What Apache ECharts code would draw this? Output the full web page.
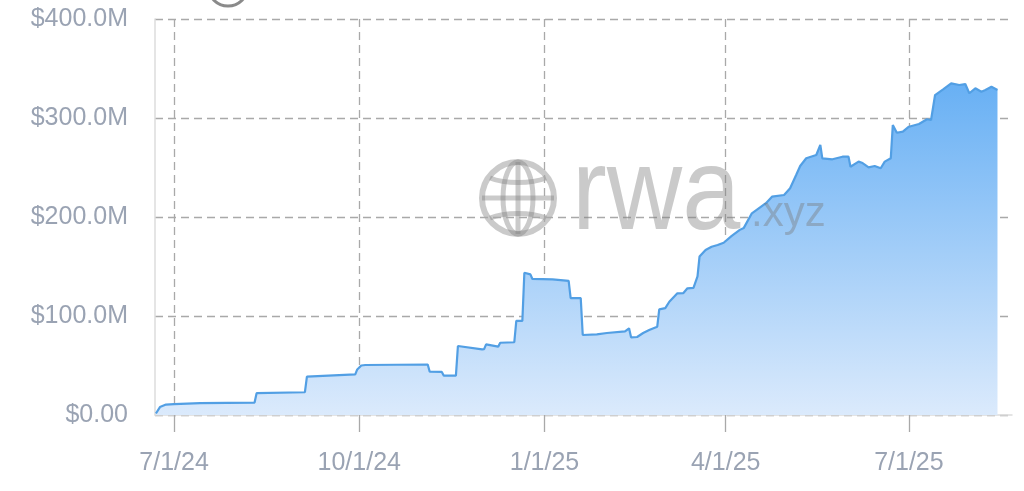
<!DOCTYPE html>
<html>
<head>
<meta charset="utf-8">
<script src="https://cdn.jsdelivr.net/npm/echarts@6/dist/echarts.min.js"></script>
<style>
  html, body { margin: 0; padding: 0; background: #fff; }
  #chart { width: 1024px; height: 491px; }
</style>
</head>
<body>
<div id="chart"></div>
<script>
// total value in $M
const dates = [
  "2024-06-22", "2024-06-24", "2024-06-27", "2024-07-01", "2024-07-14", "2024-08-10", "2024-08-11",
  "2024-09-04", "2024-09-05", "2024-09-29", "2024-09-30", "2024-10-02", "2024-10-04", "2024-11-04",
  "2024-11-05", "2024-11-11", "2024-11-12", "2024-11-18", "2024-11-19", "2024-12-01", "2024-12-02",
  "2024-12-03", "2024-12-09", "2024-12-10", "2024-12-17", "2024-12-18", "2024-12-21", "2024-12-22",
  "2024-12-25", "2024-12-26", "2025-01-05", "2025-01-13", "2025-01-14", "2025-01-19", "2025-01-20",
  "2025-01-27", "2025-02-01", "2025-02-10", "2025-02-12", "2025-02-13", "2025-02-16", "2025-02-19",
  "2025-02-22", "2025-02-26", "2025-02-27", "2025-03-02", "2025-03-04", "2025-03-08", "2025-03-11",
  "2025-03-13", "2025-03-16", "2025-03-18", "2025-03-19", "2025-03-22", "2025-03-25", "2025-03-28",
  "2025-03-31", "2025-04-04", "2025-04-08", "2025-04-10", "2025-04-14", "2025-04-21", "2025-04-24",
  "2025-04-30", "2025-05-03", "2025-05-06", "2025-05-08", "2025-05-11", "2025-05-16", "2025-05-18",
  "2025-05-19", "2025-05-24", "2025-05-29", "2025-06-01", "2025-06-02", "2025-06-06", "2025-06-08",
  "2025-06-11", "2025-06-14", "2025-06-17", "2025-06-19", "2025-06-22", "2025-06-23", "2025-06-25",
  "2025-06-28", "2025-07-01", "2025-07-06", "2025-07-10", "2025-07-12", "2025-07-14", "2025-07-18",
  "2025-07-22", "2025-07-26", "2025-07-29", "2025-07-31", "2025-08-03", "2025-08-06", "2025-08-08",
  "2025-08-11", "2025-08-14"
];
const values = [
  1.5, 8, 10.5, 11, 12, 12.6, 22,
  23, 38.7, 41, 46, 50, 50.5, 51,
  43.7, 43.5, 39.7, 39.7, 69.7, 66.3, 66.5,
  71.4, 69, 73, 73.5, 95, 95, 143.7,
  142, 137.4, 137, 135.4, 118, 118, 80.8,
  81.5, 82.8, 84.5, 87.6, 78.5, 78.8, 82.8,
  85.9, 89.2, 106.7, 108, 114.4, 122.9, 123.2,
  128, 128.5, 140, 160, 166.7, 170, 171.7,
  174, 181, 187, 189, 203.7, 214, 220.5,
  222.2, 229, 242.4, 251.5, 259.3, 262.6, 272.7,
  259.3, 258.3, 260.9, 260.9, 250.8, 255.9, 254.5,
  250.2, 251.5, 249.2, 255.9, 259.3, 292.9, 285.1,
  286.2, 291.2, 293.9, 298.7, 298, 323.2, 329,
  335, 333.3, 334.3, 325, 330, 326.6, 328.3,
  331.6, 328.3
];
const xTickDates = ["2024-07-01", "2024-10-01", "2025-01-01", "2025-04-01", "2025-07-01"];
const xMin = "2024-06-21T13:00:00";
const xMax = "2025-08-21T05:00:00";
const yMin = 0, yMax = 400, yStep = 100;

const ts = (s) => new Date(s.length > 10 ? s : s + "T00:00:00").getTime();
const labelColor = "#9aa3b3";
const gridColor = "#a9a9a9";
const wm = "rgba(128,128,128,0.42)";

const chart = echarts.init(document.getElementById("chart"));

chart.setOption({
  backgroundColor: "#fff",
  animation: false,
  grid: { left: 155, right: 12, top: 19, bottom: 76 },
  xAxis: {
    type: "value",
    min: ts(xMin),
    max: ts(xMax),
    axisLine: { lineStyle: { color: "#dcdcdc", width: 1.5 } },
    axisTick: {
      show: true,
      length: 17,
      customValues: xTickDates.map(ts),
      lineStyle: { color: gridColor, width: 1.3 },
    },
    axisLabel: {
      customValues: xTickDates.map(ts),
      color: labelColor,
      fontSize: 25,
      fontFamily: "Liberation Sans",
      margin: 36,
      formatter: (v) => {
        const d = new Date(v);
        return (d.getMonth() + 1) + "/" + d.getDate() + "/" + String(d.getFullYear()).slice(2);
      },
    },
    splitLine: { show: true, lineStyle: { color: gridColor, type: [8, 5], width: 1.3 } },
  },
  yAxis: {
    type: "value",
    min: yMin,
    max: yMax,
    interval: yStep,
    axisLine: { show: true, lineStyle: { color: "#dcdcdc", width: 1.5 } },
    axisTick: { show: false },
    axisLabel: {
      color: labelColor,
      fontSize: 25,
      fontFamily: "Liberation Sans",
      margin: 27,
      padding: [5, 0, 0, 0],
      formatter: (v) => (v === 0 ? "$0.00" : "$" + v.toFixed(1) + "M"),
    },
    splitLine: { lineStyle: { color: gridColor, type: [8, 5], width: 1.3 } },
  },
  series: [{
    type: "line",
    data: dates.map((d, i) => [ts(d), values[i]]),
    showSymbol: false,
    lineStyle: { color: "#529fe4", width: 2.2 },
    areaStyle: {
      opacity: 1,
      color: new echarts.graphic.LinearGradient(0, 0, 0, 1, [
        { offset: 0, color: "#68b0f4" },
        { offset: 1, color: "#dbeafc" },
      ]),
    },
    z: 3,
  }],
  graphic: [
    // cut-off title icon at the very top
    { type: "circle", id: "topIcon", shape: { cx: 228, cy: -14, r: 20 }, style: { fill: "none", stroke: "#8a8a8a", lineWidth: 3 }, z: 100 },
    // rwa.xyz watermark
    {
      type: "group", id: "globe", z: 100, silent: true,
      children: [
        { type: "circle", shape: { cx: 518, cy: 198, r: 36 }, style: { fill: "none", stroke: wm, lineWidth: 6 } },
        { type: "ellipse", shape: { cx: 518, cy: 198, rx: 15, ry: 36 }, style: { fill: "none", stroke: wm, lineWidth: 5 } },
        { type: "line", shape: { x1: 518, y1: 162, x2: 518, y2: 234 }, style: { stroke: wm, lineWidth: 5 } },
        { type: "line", shape: { x1: 482, y1: 198, x2: 554, y2: 198 }, style: { stroke: wm, lineWidth: 5 } },
        { type: "bezierCurve", shape: { x1: 490, y1: 178, cpx1: 505, cpy1: 184, cpx2: 531, cpy2: 184, x2: 546, y2: 178 }, style: { fill: "none", stroke: wm, lineWidth: 5 } },
        { type: "bezierCurve", shape: { x1: 490, y1: 218, cpx1: 505, cpy1: 212, cpx2: 531, cpy2: 212, x2: 546, y2: 218 }, style: { fill: "none", stroke: wm, lineWidth: 5 } },
      ],
    },
    {
      type: "text", id: "wmRwa", x: 572, y: 139, scaleX: 0.9, z: 100, silent: true,
      style: { text: "rwa", fill: wm, fontSize: 116, fontFamily: "Liberation Sans" },
    },
    {
      type: "text", id: "wmXyz", x: 751, y: 193, z: 101, silent: true,
      style: { text: ".xyz", fill: "rgba(120,120,120,0.4)", fontSize: 42, fontFamily: "Liberation Sans" },
    },
  ],
});
</script>
</body>
</html>
